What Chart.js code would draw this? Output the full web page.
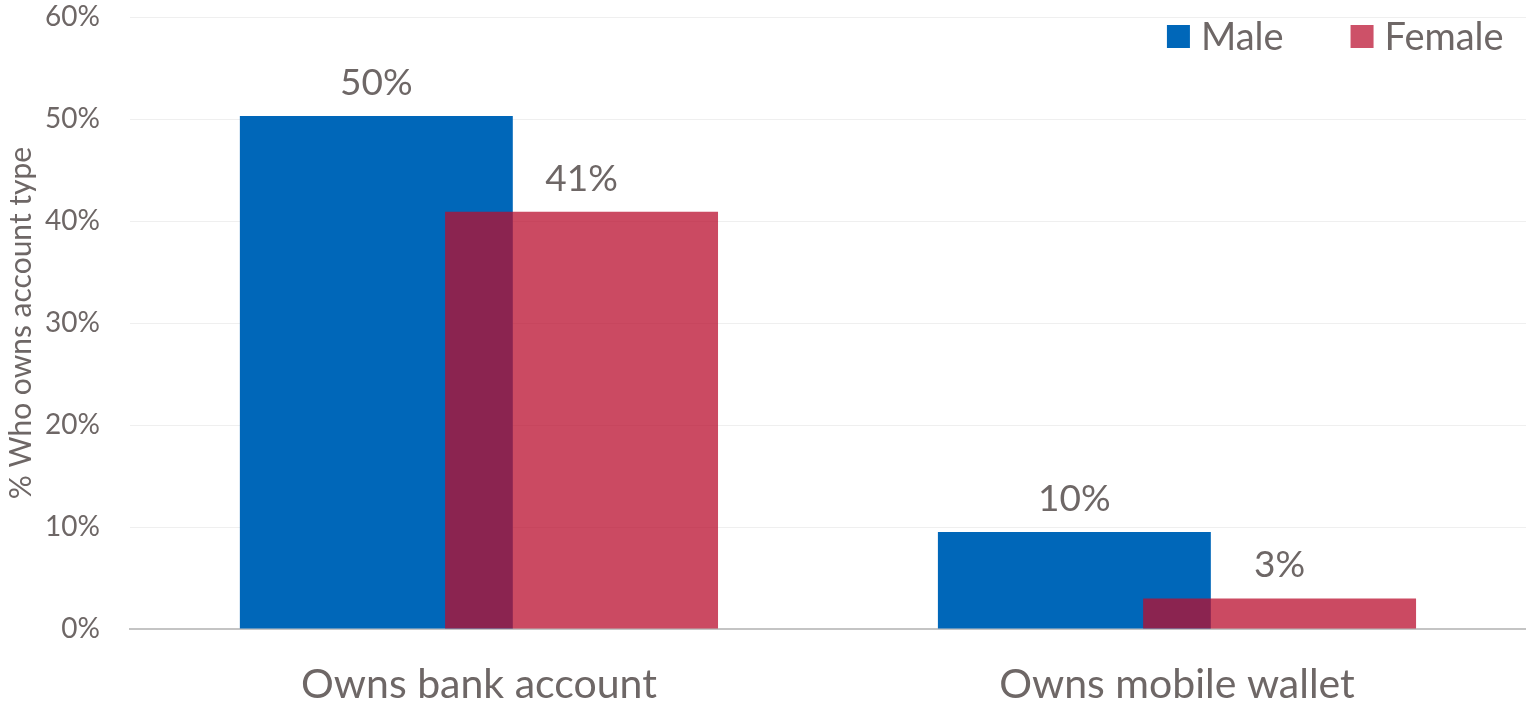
<!DOCTYPE html>
<html>
<head>
<meta charset="utf-8">
<script src="https://cdn.jsdelivr.net/npm/chart.js@4.4.1/dist/chart.umd.min.js"></script>
<style>
body{margin:0;background:#fff;}
#wrap{width:1526px;height:701px;position:relative;}
</style>
</head>
<body>
<div id="wrap"><canvas id="barChart"></canvas></div>
<script>
const categories=["Owns bank account","Owns mobile wallet"];
const maleValues=[50.3,9.5];
const femaleValues=[40.9,3.0];
const yTicks=[0,10,20,30,40,50,60];

const textColor="#6E6766";
const fontName="Lato, 'Open Sans', sans-serif";

// the two bars of a category overlap: push male left, female right
const overlapBars={
id:"overlapBars",
afterDatasetsUpdate(chart){
const xs=chart.scales.x;
const catW=xs.width/chart.data.labels.length;
chart.data.datasets.forEach((ds,i)=>{
const shift=(i===0?-1:1)*catW*0.147;
chart.getDatasetMeta(i).data.forEach(bar=>{bar.x+=shift;});
});
}
};

// value labels above each bar
const barLabels={
id:"barLabels",
afterDatasetsDraw(chart){
const ctx=chart.ctx;
ctx.save();
ctx.font="37px "+fontName;
ctx.fillStyle=textColor;
ctx.textAlign="center";
ctx.textBaseline="alphabetic";
chart.data.datasets.forEach((ds,i)=>{
chart.getDatasetMeta(i).data.forEach((bar,j)=>{
ctx.fillText(Math.round(ds.data[j])+"%",bar.x,bar.y-21);
});
});
ctx.restore();
}
};

// legend sitting inside the plot, top right
const cornerLegend={
id:"cornerLegend",
afterDraw(chart){
const ctx=chart.ctx;
const area=chart.chartArea;
ctx.save();
ctx.font="38px "+fontName;
ctx.textBaseline="alphabetic";
ctx.textAlign="left";
let x=area.left+1037;
chart.data.datasets.forEach(ds=>{
ctx.fillStyle=ds.legendColor;
ctx.fillRect(x,area.top+8,23,23);
ctx.fillStyle=textColor;
ctx.fillText(ds.label,x+34,area.top+33);
x+=34+ctx.measureText(ds.label).width+67;
});
ctx.restore();
}
};

new Chart(
document.getElementById("barChart"),
{
type:"bar",
data:{
labels:categories,
datasets:[
{
label:"Male",
data:maleValues,
backgroundColor:"#0067B9",
legendColor:"#0067B9",
order:1
},
{
label:"Female",
data:femaleValues,
backgroundColor:"rgba(186,14,46,0.75)",
legendColor:"#CD5168",
order:0
}
]
},
options:{
responsive:true,
maintainAspectRatio:false,
animation:false,
grouped:false,
categoryPercentage:1,
barPercentage:0.391,
layout:{padding:{top:0,right:0,bottom:0,left:6}},
plugins:{
legend:{display:false},
tooltip:{enabled:false}
},
scales:{
x:{
grid:{color:"rgba(0,0,0,0)",drawTicks:true,tickLength:40,tickColor:"rgba(0,0,0,0)"},
border:{color:"#C4C4C4",width:2},
ticks:{
color:textColor,
padding:0,
font:{family:fontName,size:41,lineHeight:0.78}
}
},
y:{
min:0,
max:60,
afterBuildTicks(axis){
axis.ticks=yTicks.map(v=>({value:v}));
},
grid:{color:"#EFEFEF",lineWidth:1,drawTicks:true,tickLength:27,tickColor:"rgba(0,0,0,0)"},
border:{display:false},
title:{
display:true,
text:"% Who owns account type",
color:textColor,
font:{family:fontName,size:30,lineHeight:1},
padding:{top:0,bottom:6}
},
ticks:{
color:textColor,
padding:3,
font:{family:fontName,size:28,lineHeight:1},
callback:v=>v+"%"
}
}
}
},
plugins:[overlapBars,barLabels,cornerLegend]
}
);
</script>
</body>
</html>
